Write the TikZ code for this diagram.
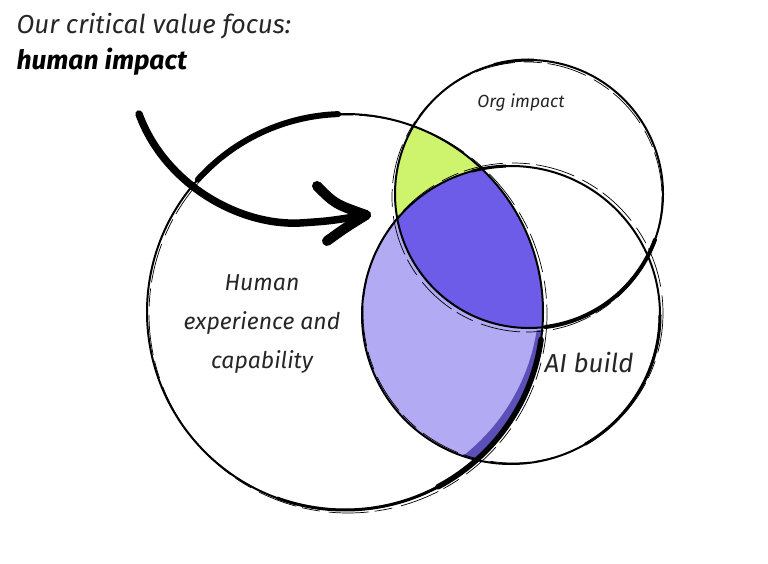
\documentclass[tikz,border=0pt]{standalone}
\usepackage{fontspec}
\usetikzlibrary{calc}
\newfontfamily\hand{Fira Sans}
\begin{document}
\begin{tikzpicture}[x=1pt,y=-1pt,
  ring/.style={line width=2.0pt, black},
  ringthin/.style={line width=0.7pt, black, dash pattern=on 40pt off 9pt on 18pt off 6pt},
  brush/.style={line width=4.6pt, black, line cap=round},
  lbl/.style={font=\hand\itshape\fontsize{23}{39}\selectfont, align=center, text=black!85},
  arrowstroke/.style={line width=7.5pt, black, line cap=round}]
\useasboundingbox (0,0) rectangle (768,564);
\definecolor{lime}{HTML}{CDF46C}
\definecolor{lav}{HTML}{B2AAF2}
\definecolor{deep}{HTML}{6C5CE7}
\definecolor{deepedge}{HTML}{5B4FB8}
% circle centres
\coordinate (H) at (345,312);
\coordinate (O) at (529,194);
\coordinate (A) at (511,315);
% fills
\begin{scope}
  \clip (H) circle[radius=198];
  \clip (O) circle[radius=134];
  \fill[lime] (O) circle[radius=134];
\end{scope}
\begin{scope}
  \clip (H) circle[radius=198];
  \clip (A) circle[radius=149];
  \fill[lav] (A) circle[radius=149];
  \begin{scope}
    \clip (440,330) rectangle (560,480);
    \fill[deepedge, even odd rule] (H) circle[radius=198] ($(H)+(-4,-12)$) circle[radius=198];
  \end{scope}
  \clip (O) circle[radius=134];
  \fill[deep] (O) circle[radius=134];
\end{scope}
% circles
\draw[ring] (H) circle[radius=198];
\draw[ringthin] (H) ++(3,2) circle[radius=199];
\draw[ring] (O) circle[radius=134];
\draw[ringthin] (O) ++(-2,3) circle[radius=135];
\draw[ring] (A) circle[radius=149];
\draw[ringthin] (A) ++(2,-2) circle[radius=150];
% brush accents
\draw[brush, line width=6pt] (H) ++(222:198) arc[start angle=222,end angle=268,radius=198];
\draw[brush, line width=5.5pt] (H) ++(8:198) arc[start angle=8,end angle=62,radius=198];
\draw[brush, line width=3pt] (H) ++(62:198) arc[start angle=62,end angle=110,radius=198];
\draw[brush, line width=4pt] (O) ++(20:134) arc[start angle=20,end angle=83,radius=134];
\draw[brush, line width=3pt] (O) ++(255:134) arc[start angle=255,end angle=272,radius=134];
\draw[brush, line width=3pt] (A) ++(255:149) arc[start angle=255,end angle=268,radius=149];
\draw[brush, line width=3pt] (A) ++(0:149) arc[start angle=0,end angle=60,radius=149];
% arrow
\coordinate (s) at (139,114);
\coordinate (t) at (366,215);
\coordinate (b1) at (317,186);
\coordinate (b2) at (327,241);
\draw[arrowstroke] (s) .. controls (165,185) and (240,226) .. (300,223) .. controls (330,221) .. (t);
\draw[arrowstroke, line width=10pt] (b1) .. controls (335,204) .. (t);
\draw[arrowstroke, line width=10pt] (t) .. controls (345,228) .. (b2);
% texts
\node[anchor=west, font=\hand\itshape\fontsize{26}{30}\selectfont, text=black!85] (title1) at (13,26) {Our critical value focus:};
\node[anchor=west, font=\hand\bfseries\itshape\fontsize{26.5}{30}\selectfont] (title2) at (13,62) {human impact};
\node[lbl, font=\hand\itshape\fontsize{17.5}{20}\selectfont] (org) at (521,103) {Org impact};
\node[lbl] (hum) at (262,324) {Human\\experience and\\capability};
\node[lbl, font=\hand\itshape\fontsize{26}{30}\selectfont] (ai) at (589,363) {AI build};
\end{tikzpicture}
\end{document}
